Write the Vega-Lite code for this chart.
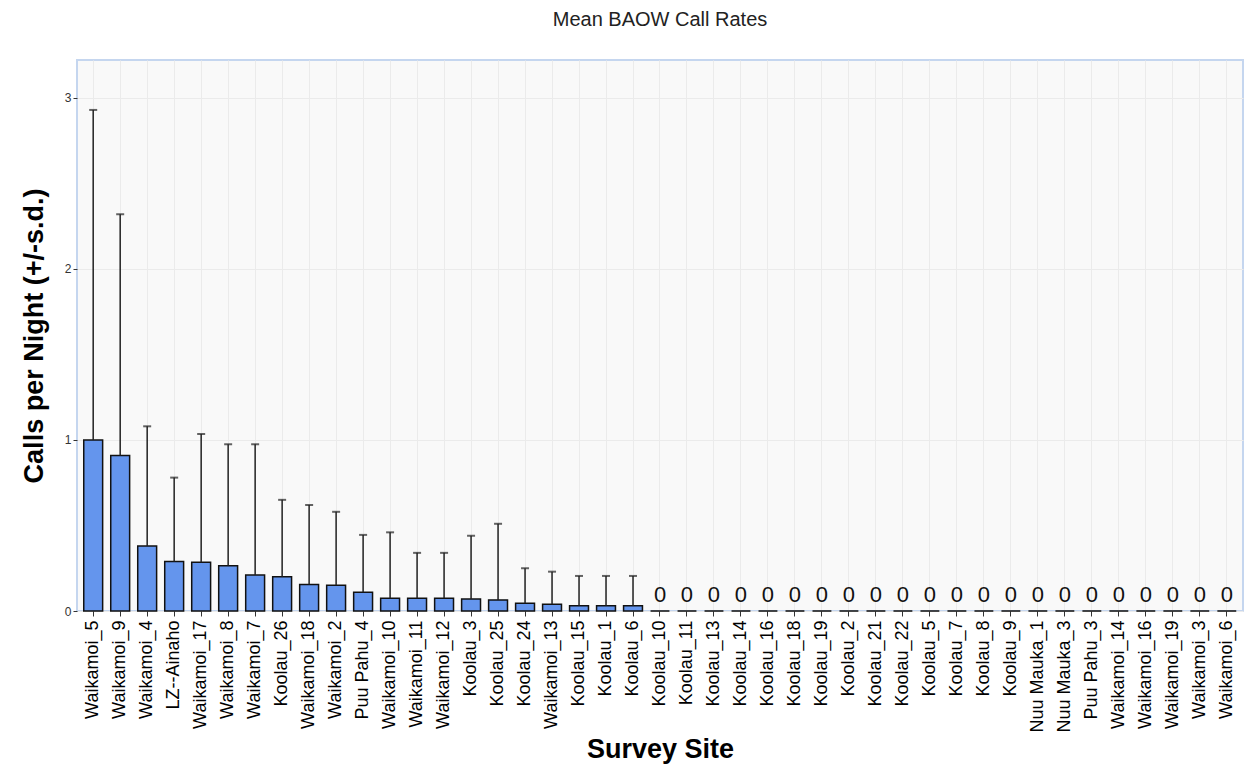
{
  "$schema": "https://vega.github.io/schema/vega-lite/v6.json",
  "autosize": {"type": "none"},
  "width": 1166,
  "height": 551,
  "padding": {"left": 77, "top": 60, "right": 2, "bottom": 154},
  "background": "white",
  "config": {
    "font": "Liberation Sans",
    "view": {"fill": "#f9f9f9", "stroke": "#c5d6ef", "strokeWidth": 2}
  },
  "title": {
    "text": "Mean BAOW Call Rates",
    "fontSize": 20,
    "fontWeight": "normal",
    "color": "#222222",
    "anchor": "middle",
    "offset": 30,
    "font": "Liberation Sans"
  },
  "data": {
    "values": [
      {"site": "Waikamoi_5", "mean": 1.0, "upper": 2.93},
      {"site": "Waikamoi_9", "mean": 0.91, "upper": 2.32},
      {"site": "Waikamoi_4", "mean": 0.38, "upper": 1.08},
      {"site": "LZ--Ainaho", "mean": 0.29, "upper": 0.78},
      {"site": "Waikamoi_17", "mean": 0.285, "upper": 1.035},
      {"site": "Waikamoi_8", "mean": 0.265, "upper": 0.975},
      {"site": "Waikamoi_7", "mean": 0.21, "upper": 0.975},
      {"site": "Koolau_26", "mean": 0.2, "upper": 0.65},
      {"site": "Waikamoi_18", "mean": 0.155, "upper": 0.62},
      {"site": "Waikamoi_2", "mean": 0.15, "upper": 0.58},
      {"site": "Puu Pahu_4", "mean": 0.11, "upper": 0.445},
      {"site": "Waikamoi_10", "mean": 0.075, "upper": 0.46},
      {"site": "Waikamoi_11", "mean": 0.075, "upper": 0.34},
      {"site": "Waikamoi_12", "mean": 0.075, "upper": 0.34},
      {"site": "Koolau_3", "mean": 0.07, "upper": 0.44},
      {"site": "Koolau_25", "mean": 0.065, "upper": 0.51},
      {"site": "Koolau_24", "mean": 0.045, "upper": 0.25},
      {"site": "Waikamoi_13", "mean": 0.04, "upper": 0.23},
      {"site": "Koolau_15", "mean": 0.03, "upper": 0.205},
      {"site": "Koolau_1", "mean": 0.03, "upper": 0.205},
      {"site": "Koolau_6", "mean": 0.03, "upper": 0.205},
      {"site": "Koolau_10", "mean": 0, "upper": 0},
      {"site": "Koolau_11", "mean": 0, "upper": 0},
      {"site": "Koolau_13", "mean": 0, "upper": 0},
      {"site": "Koolau_14", "mean": 0, "upper": 0},
      {"site": "Koolau_16", "mean": 0, "upper": 0},
      {"site": "Koolau_18", "mean": 0, "upper": 0},
      {"site": "Koolau_19", "mean": 0, "upper": 0},
      {"site": "Koolau_2", "mean": 0, "upper": 0},
      {"site": "Koolau_21", "mean": 0, "upper": 0},
      {"site": "Koolau_22", "mean": 0, "upper": 0},
      {"site": "Koolau_5", "mean": 0, "upper": 0},
      {"site": "Koolau_7", "mean": 0, "upper": 0},
      {"site": "Koolau_8", "mean": 0, "upper": 0},
      {"site": "Koolau_9", "mean": 0, "upper": 0},
      {"site": "Nuu Mauka_1", "mean": 0, "upper": 0},
      {"site": "Nuu Mauka_3", "mean": 0, "upper": 0},
      {"site": "Puu Pahu_3", "mean": 0, "upper": 0},
      {"site": "Waikamoi_14", "mean": 0, "upper": 0},
      {"site": "Waikamoi_16", "mean": 0, "upper": 0},
      {"site": "Waikamoi_19", "mean": 0, "upper": 0},
      {"site": "Waikamoi_3", "mean": 0, "upper": 0},
      {"site": "Waikamoi_6", "mean": 0, "upper": 0}
    ]
  },
  "encoding": {
    "x": {
      "field": "site",
      "type": "nominal",
      "sort": null,
      "scale": {"paddingInner": 0.3, "paddingOuter": 0.25},
      "axis": {
        "title": "Survey Site",
        "titleFontSize": 27,
        "titleFontWeight": "bold",
        "titleColor": "black",
        "titlePadding": 4,
        "labelAngle": -90,
        "labelFontSize": 18,
        "labelColor": "black",
        "labelPadding": 4,
        "tickSize": 5,
        "tickColor": "#333333",
        "domain": false,
        "grid": true,
        "gridColor": "#ebebeb",
        "gridWidth": 1
      }
    }
  },
  "layer": [
    {
      "mark": {"type": "bar", "fill": "#6495ED", "stroke": "#111111", "strokeWidth": 1.5},
      "encoding": {
        "y": {
          "field": "mean",
          "type": "quantitative",
          "scale": {"domain": [0, 3.222], "nice": false},
          "axis": {
            "title": "Calls per Night (+/-s.d.)",
            "titleFontSize": 27,
            "titleFontWeight": "bold",
            "titleColor": "black",
            "titlePadding": 16,
            "values": [0, 1, 2, 3],
            "format": "d",
            "labelFontSize": 12,
            "labelColor": "#333333",
            "labelPadding": 2,
            "tickSize": 4,
            "tickColor": "#333333",
            "domain": false,
            "grid": true,
            "gridColor": "#ebebeb",
            "gridWidth": 1
          }
        }
      }
    },
    {
      "transform": [{"filter": "datum.upper > 0"}],
      "mark": {"type": "rule", "color": "#222222", "strokeWidth": 1.5},
      "encoding": {
        "y": {"field": "mean", "type": "quantitative"},
        "y2": {"field": "upper"}
      }
    },
    {
      "transform": [{"filter": "datum.upper > 0"}],
      "mark": {"type": "tick", "color": "#222222", "thickness": 2, "size": 8, "orient": "horizontal"},
      "encoding": {
        "y": {"field": "upper", "type": "quantitative"}
      }
    },
    {
      "transform": [{"filter": "datum.mean == 0"}],
      "mark": {"type": "text", "fontSize": 22, "color": "#111111", "baseline": "bottom", "dy": -4},
      "encoding": {
        "y": {"field": "mean", "type": "quantitative"},
        "text": {"field": "mean", "type": "quantitative", "format": "d"}
      }
    }
  ]
}
